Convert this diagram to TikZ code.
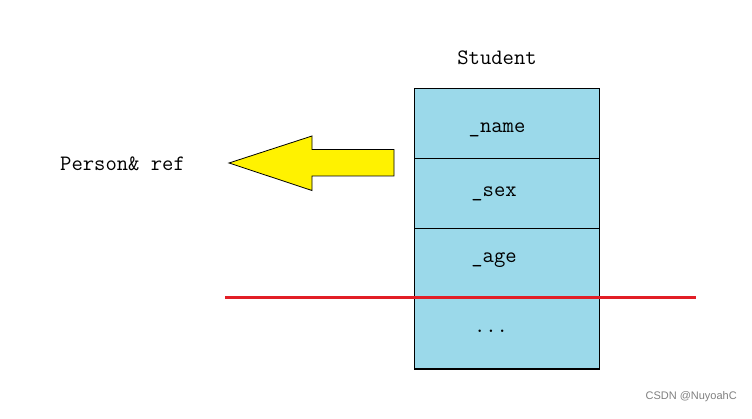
\documentclass[tikz,border=0pt]{standalone}
\usepackage{fontspec}
\setmainfont{Liberation Serif}
\newfontfamily\wmfam{Liberation Sans}
\definecolor{cellblue}{RGB}{155,217,234}
\definecolor{arrowyellow}{RGB}{255,242,0}
\definecolor{linered}{RGB}{226,30,38}
\tikzset{
  cell/.style={draw=black, line width=1pt, fill=cellblue, minimum width=185pt, minimum height=70pt, inner sep=0pt, outer sep=0pt},
  lbl/.style={font=\ttfamily\fontsize{22}{26}\selectfont, inner sep=0pt}
}
\begin{document}
\begin{tikzpicture}[x=1pt,y=-1pt]
\useasboundingbox (0,0) rectangle (752,419);
\node[cell, anchor=north west] (c1) at (414,89) {};
\node[cell, anchor=north] (c2) at (c1.south) {};
\node[cell, anchor=north] (c3) at (c2.south) {};
\node[cell, anchor=north] (c4) at (c3.south) {};
\node[lbl] (n1) at (497,130) {\_name};
\node[lbl] (n2) at (494,194) {\_sex};
\node[lbl] (n3) at (494,260) {\_age};
\node[lbl] (n4) at (491,331) {...};
\node[lbl] (title) at (497,58) {Student};
\node[lbl, anchor=west] (ref) at (60,164) {Person\& ref};
\coordinate (redL) at (225,298);
\coordinate (redR) at (696,298);
\draw[linered, line width=3pt] (redL) -- (redR);
\draw[black, line width=0.8pt, fill=arrowyellow] (229,163) -- (312,136) -- (312,149.5) -- (394,149.5) -- (394,176) -- (312,176) -- (312,190.5) -- cycle;
\node[font=\wmfam\fontsize{11}{13}\selectfont, text=black!50, anchor=east, inner sep=0pt] (wm) at (737,397) {CSDN @NuyoahC};
\end{tikzpicture}
\end{document}
